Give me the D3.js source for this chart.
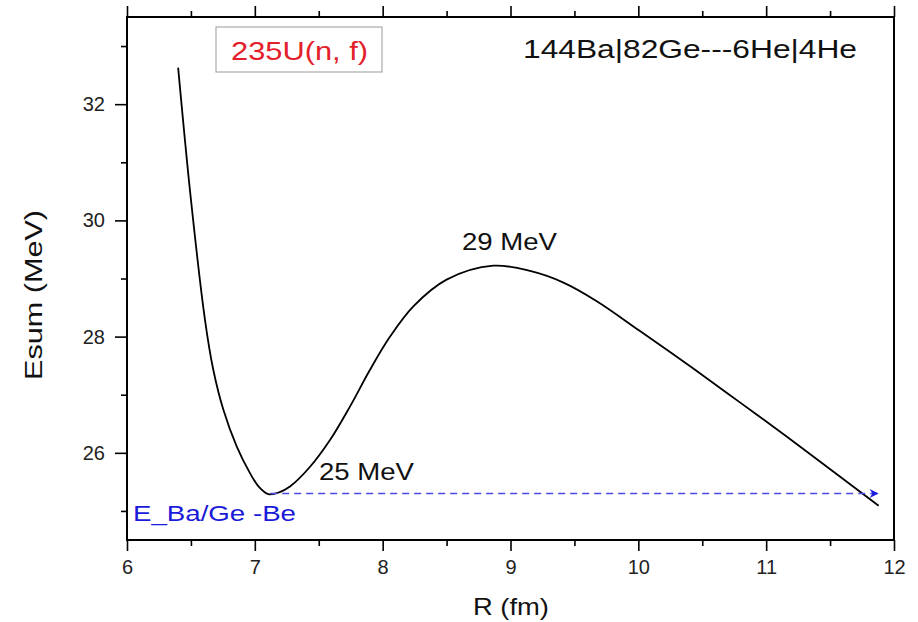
<!DOCTYPE html>
<html>
<head>
<meta charset="utf-8">
<script src="https://cdn.jsdelivr.net/npm/d3@7"></script>
<style>
  body { margin: 0; background: #fff; }
  svg { font-family: "Liberation Sans", Arial, sans-serif; }
</style>
</head>
<body>
<script>
// Set dimensions
const width = 918, height = 622;
const margin = { top: 17, right: 24, bottom: 82, left: 127 };

// Curve data: R (fm) vs Esum (MeV)
const rValues = [6.40, 6.50, 6.61, 6.675, 6.754, 6.858, 6.962, 7.03, 7.106, 7.19, 7.275, 7.432, 7.588, 7.745, 7.901, 8.058,
                 8.24, 8.50, 8.866, 9.153, 9.414, 9.675, 10.01, 10.43, 10.80, 11.16, 11.88];
const eValues = [32.63, 30.36, 28.29, 27.43, 26.74, 26.11, 25.65, 25.42, 25.29, 25.32, 25.42, 25.76, 26.22, 26.80, 27.43, 28.00,
                 28.52, 28.98, 29.22, 29.13, 28.93, 28.61, 28.10, 27.45, 26.86, 26.28, 25.09];

const xTicks = [6, 7, 8, 9, 10, 11, 12];
const xMinor = [6.5, 7.5, 8.5, 9.5, 10.5, 11.5];
const yTicks = [26, 28, 30, 32];
const yMinor = [25, 27, 29, 31, 33];

const levelE = 25.3;          // dashed level line
const levelFrom = 7.12, levelTo = 11.88;

const svg = d3.select("body").append("svg")
    .attr("width", width)
    .attr("height", height);

let x = d3.scaleLinear().domain([6, 12]).range([margin.left, width - margin.right]);
let y = d3.scaleLinear().domain([24.5, 33.5]).range([height - margin.bottom, margin.top]);

// Frame
svg.append("rect")
    .attr("x", x(6)).attr("y", y(33.5))
    .attr("width", x(12) - x(6)).attr("height", y(24.5) - y(33.5))
    .attr("fill", "none").attr("stroke", "#000").attr("stroke-width", 2);

function styleAxis(g) {
    g.select(".domain").remove();
    g.selectAll("line").attr("stroke", "#000").attr("stroke-width", 1.6);
    g.selectAll("text").attr("font-size", 20).attr("fill", "#222");
}

// Bottom axis
svg.append("g")
    .attr("transform", `translate(0,${y(24.5)})`)
    .call(d3.axisBottom(x).tickValues(xTicks).tickSize(11).tickPadding(9).tickFormat(d3.format("d")))
    .call(styleAxis);
svg.append("g")
    .attr("transform", `translate(0,${y(24.5)})`)
    .call(d3.axisBottom(x).tickValues(xMinor).tickSize(6).tickFormat(""))
    .call(styleAxis);

// Top axis (ticks only)
svg.append("g")
    .attr("transform", `translate(0,${y(33.5)})`)
    .call(d3.axisTop(x).tickValues(xTicks).tickSize(11).tickFormat(""))
    .call(styleAxis);
svg.append("g")
    .attr("transform", `translate(0,${y(33.5)})`)
    .call(d3.axisTop(x).tickValues(xMinor).tickSize(6).tickFormat(""))
    .call(styleAxis);

// Left axis
svg.append("g")
    .attr("transform", `translate(${x(6)},0)`)
    .call(d3.axisLeft(y).tickValues(yTicks).tickSize(12).tickPadding(10).tickFormat(d3.format("d")))
    .call(styleAxis);
svg.append("g")
    .attr("transform", `translate(${x(6)},0)`)
    .call(d3.axisLeft(y).tickValues(yMinor).tickSize(6).tickFormat(""))
    .call(styleAxis);

// Axis titles
svg.append("text")
    .attr("x", 473).attr("y", 615)
    .attr("font-size", 24).attr("fill", "#111")
    .attr("textLength", 76).attr("lengthAdjust", "spacingAndGlyphs")
    .text("R (fm)");

svg.append("text")
    .attr("transform", `translate(42,380) rotate(-90)`)
    .attr("font-size", 23).attr("fill", "#111")
    .attr("textLength", 170).attr("lengthAdjust", "spacingAndGlyphs")
    .text("Esum (MeV)");

// Curve
let pts = rValues.map((r, i) => ({ r, e: eValues[i] }));
let line = d3.line().x(d => x(d.r)).y(d => y(d.e)).curve(d3.curveCatmullRom.alpha(0.5));

svg.append("path")
    .datum(pts)
    .attr("d", line)
    .attr("fill", "none")
    .attr("stroke", "#000")
    .attr("stroke-width", 1.8);

// Dashed level line with arrow
svg.append("defs").append("marker")
    .attr("id", "arrow")
    .attr("viewBox", "0 0 10 10")
    .attr("refX", 10).attr("refY", 5)
    .attr("markerWidth", 15).attr("markerHeight", 9)
    .attr("markerUnits", "userSpaceOnUse")
    .attr("orient", "auto")
    .append("path")
    .attr("d", "M0,0 L10,5 L0,10 L3,5 Z")
    .attr("fill", "#1a1ae0");

svg.append("line")
    .attr("x1", x(levelFrom)).attr("x2", x(levelTo))
    .attr("y1", y(levelE)).attr("y2", y(levelE))
    .attr("stroke", "#4a4ae8").attr("stroke-width", 1.4)
    .attr("stroke-dasharray", "7,5")
    .attr("marker-end", "url(#arrow)");

// Annotations
function label(txt, px, py, size, len, color) {
    svg.append("text")
        .attr("x", px).attr("y", py)
        .attr("font-size", size).attr("fill", color)
        .attr("textLength", len).attr("lengthAdjust", "spacingAndGlyphs")
        .text(txt);
}

label("29 MeV", 462, 250, 24, 95, "#111");
label("25 MeV", 319, 480, 24, 95, "#111");
label("E_Ba/Ge -Be", 133, 521, 22, 163, "#1a1ad8");
label("144Ba|82Ge---6He|4He", 523, 58, 26, 334, "#111");

svg.append("rect")
    .attr("x", 216).attr("y", 27)
    .attr("width", 166).attr("height", 45)
    .attr("fill", "#fff").attr("stroke", "#999").attr("stroke-width", 1);

label("235U(n, f)", 231, 60, 26, 137, "#e3202a");
</script>
</body>
</html>
